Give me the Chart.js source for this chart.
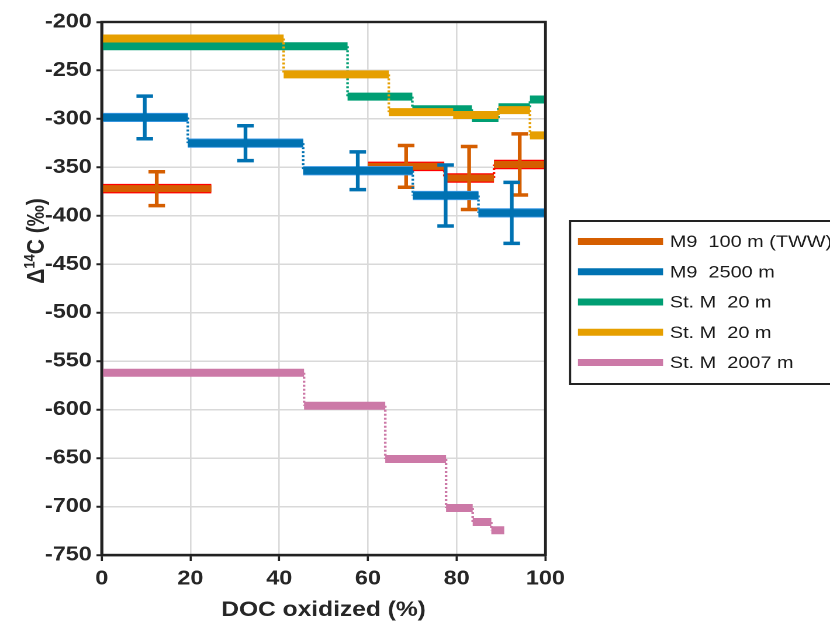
<!DOCTYPE html>
<html lang="en">
<head>
<meta charset="UTF-8">
<title>DOC oxidized vs Δ14C</title>
<script src="https://cdn.jsdelivr.net/npm/chart.js@4/dist/chart.umd.min.js"></script>
<style>
  * { margin: 0; padding: 0; }
  body { background: #fff; width: 830px; height: 623px; overflow: hidden; }
  #wrap { width: 710px; height: 623px; transform-origin: 0 0; }
</style>
</head>
<body>
<div id="wrap"><canvas id="chart"></canvas></div>
<script>
// the original figure is stretched sideways, so the chart is drawn 710 wide and scaled to 830
const SX = 830 / 710

const seriesLabels = ['M9  100 m (TWW)', 'M9  2500 m', 'St. M  20 m', 'St. M  20 m', 'St. M  2007 m']
const seriesColors = ['#D55E00', '#0072B2', '#009E73', '#E69F00', '#CC79A7']

const xTicks = [0, 20, 40, 60, 80, 100]
const yTicks = [-750, -700, -650, -600, -550, -500, -450, -400, -350, -300, -250, -200]

// M9 100 m (TWW)
const twwStart = [0, 60, 77.2, 88.4]
const twwEnd = [24.7, 77.2, 88.4, 100]
const twwValue = [-372, -349, -361, -347]
const twwErrX = [12.4, 68.6, 82.8, 94.2]
const twwErr = [17.5, 21.5, 32.5, 31.5]

// M9 2500 m
const m9Start = [0, 19.4, 45.4, 70.1, 84.9]
const m9End = [19.4, 45.4, 70.1, 84.9, 100]
const m9Value = [-298.5, -325, -353.5, -379, -397]
const m9ErrX = [9.7, 32.4, 57.7, 77.5, 92.4]
const m9Err = [22, 18, 19.5, 31.5, 31.5]

// St. M 20 m (green)
const greenStart = [0, 55.4, 70, 83.4, 89.4, 96.5]
const greenEnd = [55.4, 70, 83.4, 89.4, 96.5, 100]
const greenValue = [-225, -277, -290, -299, -288, -280]

// St. M 20 m (orange)
const orangeStart = [0, 41, 64.7, 79.2, 89.4, 96.5]
const orangeEnd = [41, 64.7, 79.2, 89.4, 96.5, 100]
const orangeValue = [-217, -254, -293, -296, -291, -317]

// St. M 2007 m
const deepStart = [0, 45.6, 63.9, 77.6, 83.6, 87.8]
const deepEnd = [45.6, 63.9, 77.6, 83.6, 87.8, 90.7]
const deepValue = [-562, -596, -651, -701.5, -716, -724.5]

function bars(start, end, value) {
  const pts = []
  start.forEach((s, i) => {
    pts.push({ x: s, y: value[i] }, { x: end[i], y: value[i] }, { x: end[i], y: null })
  })
  return pts
}

function links(start, end, value) {
  const pts = []
  for (let i = 0; i < end.length - 1; i++) {
    if (end[i] !== start[i + 1]) continue
    pts.push({ x: end[i], y: value[i] }, { x: end[i], y: value[i + 1] }, { x: end[i], y: null })
  }
  return pts
}

function errs(xs, value, err) {
  const pts = []
  xs.forEach((x, i) => {
    pts.push({ x, y: value[i] + err[i] }, { x, y: value[i] - err[i] }, { x, y: null })
  })
  return pts
}

const line = (data, color, width, dash) => ({
  data, borderColor: color, borderWidth: width, borderDash: dash || [],
  pointRadius: 0, pointHoverRadius: 0, fill: false, spanGaps: false
})

const errSet = (data, color) => ({
  data, borderColor: color, borderWidth: 3.2, pointStyle: 'line', pointRadius: 7.1,
  pointHoverRadius: 7.1, pointBorderWidth: 3.5, pointBorderColor: color,
  pointBackgroundColor: color, fill: false, spanGaps: false
})

const DOT = [2, 2]
// bottom to top
const stack = [
  line(links(deepStart, deepEnd, deepValue), seriesColors[4], 2.2, DOT),
  line(bars(deepStart, deepEnd, deepValue), seriesColors[4], 8),
  line(links(greenStart, greenEnd, greenValue), seriesColors[2], 2.2, DOT),
  line(bars(greenStart, greenEnd, greenValue), seriesColors[2], 8),
  line(links(orangeStart, orangeEnd, orangeValue), seriesColors[3], 2.2, DOT),
  line(bars(orangeStart, orangeEnd, orangeValue), seriesColors[3], 8),
  line(links(twwStart, twwEnd, twwValue), '#FF1A00', 2.2, DOT),
  line(bars(twwStart, twwEnd, twwValue), '#FF0000', 9.5),
  line(bars(twwStart, twwEnd, twwValue), seriesColors[0], 7),
  errSet(errs(twwErrX, twwValue, twwErr), seriesColors[0]),
  line(links(m9Start, m9End, m9Value), seriesColors[1], 2.2, DOT),
  line(bars(m9Start, m9End, m9Value), '#3E9BE6', 9.2),
  line(bars(m9Start, m9End, m9Value), seriesColors[1], 7.4),
  errSet(errs(m9ErrX, m9Value, m9Err), seriesColors[1])
]
stack.forEach((d, i) => { d.order = stack.length - i })

const FONT = '"Liberation Sans", Arial, Helvetica, sans-serif'
const INK = '#262626'

const extras = {
  id: 'extras',
  afterDraw(chart) {
    const { ctx, chartArea: a } = chart
    ctx.save()
    // frame
    ctx.strokeStyle = '#222'
    ctx.lineWidth = 2.4
    ctx.strokeRect(a.left, a.top, a.right - a.left, a.bottom - a.top)

    // y title: Δ14C (‰)
    const big = 'bold 21px ' + FONT
    const small = 'bold 13px ' + FONT
    const parts = [['Δ', big, 0], ['14', small, -8], ['C (‰)', big, 0]]
    let total = 0
    parts.forEach(p => { ctx.font = p[1]; p.push(ctx.measureText(p[0]).width); total += p[3] })
    ctx.translate(30, 241)
    ctx.rotate(-Math.PI / 2)
    ctx.fillStyle = INK
    ctx.textBaseline = 'alphabetic'
    ctx.textAlign = 'left'
    let cx = -total / 2
    parts.forEach(p => {
      ctx.font = p[1]
      ctx.fillText(p[0], cx, 7.5 + p[2])
      cx += p[3]
    })
    ctx.setTransform(chart.currentDevicePixelRatio, 0, 0, chart.currentDevicePixelRatio, 0, 0)

    // legend
    ctx.strokeStyle = '#222'
    ctx.lineWidth = 2
    ctx.strokeRect(487.6, 221, 260, 163)
    ctx.font = '17px ' + FONT
    ctx.textBaseline = 'middle'
    seriesLabels.forEach((lab, i) => {
      const y = 241.5 + i * 30.25
      ctx.fillStyle = seriesColors[i]
      ctx.fillRect(494.4, y - 3.5, 72.8, 7)
      ctx.fillStyle = '#1a1a1a'
      ctx.fillText(lab, 573, y + 1)
    })
    ctx.restore()
  }
}

document.getElementById('wrap').style.transform = 'scaleX(' + SX + ')'

new Chart(document.getElementById('chart'), {
  type: 'line',
  data: { datasets: stack },
  options: {
    responsive: true,
    maintainAspectRatio: false,
    animation: false,
    devicePixelRatio: 2,
    events: [],
    layout: { padding: { top: 22, right: 243.4, left: 0, bottom: 0 } },
    plugins: { legend: { display: false }, tooltip: { enabled: false } },
    elements: { line: { tension: 0, borderCapStyle: 'butt' } },
    scales: {
      x: {
        type: 'linear', min: 0, max: 100,
        afterFit: s => { s.height = 68 },
        afterBuildTicks: s => { s.ticks = xTicks.map(v => ({ value: v })) },
        ticks: { font: { family: FONT, size: 20, weight: 'bold' }, color: INK, padding: 6, maxRotation: 0, callback: v => String(v) },
        grid: { color: '#d9d9d9', lineWidth: 1.3, tickColor: '#222', tickLength: 6, tickWidth: 1.8 },
        border: { color: '#222', width: 2.4 },
        title: { display: true, text: 'DOC oxidized (%)', color: INK, font: { family: FONT, size: 21, weight: 'bold' }, padding: { top: 0, bottom: 0 } }
      },
      y: {
        type: 'linear', min: -750, max: -200,
        afterFit: s => { s.width = 87 },
        afterBuildTicks: s => { s.ticks = yTicks.map(v => ({ value: v })) },
        ticks: { font: { family: FONT, size: 20, weight: 'bold' }, color: INK, padding: 4, callback: v => String(v) },
        grid: { color: '#d9d9d9', lineWidth: 1.5, tickColor: '#222', tickLength: 4.5, tickWidth: 2 },
        border: { color: '#222', width: 2.4 }
      }
    }
  },
  plugins: [extras]
})
</script>
</body>
</html>
